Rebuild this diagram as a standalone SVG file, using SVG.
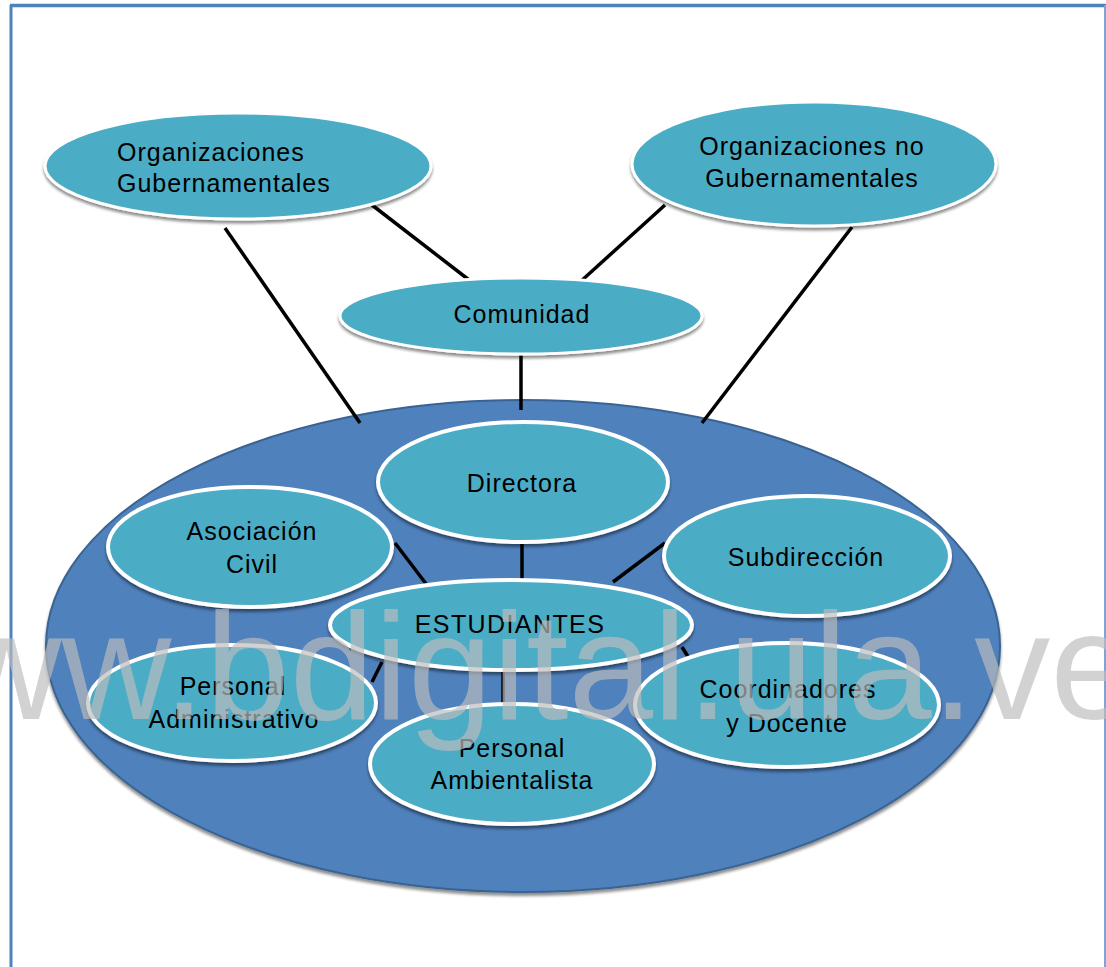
<svg xmlns="http://www.w3.org/2000/svg" width="1106" height="967" viewBox="0 0 1106 967">
<style>
.t{font-family:"Liberation Sans",Arial,sans-serif;font-size:25px;fill:#000;letter-spacing:1px}
.c{text-anchor:middle}
.top{fill:#4bacc6;stroke:#fff;stroke-width:3;filter:url(#sh)}
.in{fill:#4bacc6;stroke:#fff;stroke-width:4;filter:url(#sh)}
.ln{stroke:#000;stroke-width:3.5;fill:none}
.wm{font-family:"Liberation Sans",Arial,sans-serif;font-size:152px;fill:#bdbdbd;fill-opacity:0.68}
</style>
<defs>
<filter id="sh" x="-10%" y="-10%" width="120%" height="130%">
<feGaussianBlur in="SourceAlpha" stdDeviation="1.5"/>
<feOffset dx="0" dy="2.5" result="b"/>
<feComponentTransfer><feFuncA type="linear" slope="0.45"/></feComponentTransfer>
<feMerge><feMergeNode/><feMergeNode in="SourceGraphic"/></feMerge>
</filter>
</defs>
<rect width="1106" height="967" fill="#fff"/>
<g id="frame">
<line x1="11" y1="5" x2="11" y2="967" stroke="#4f81bd" stroke-width="3"/>
<line x1="10" y1="5.5" x2="1106" y2="5.5" stroke="#4f81bd" stroke-width="3.5"/>
<line x1="1105" y1="5" x2="1105" y2="967" stroke="#7fa3d6" stroke-width="2"/>
</g>
<g id="comunidad-escolar">
<ellipse cx="523" cy="646" rx="477" ry="246" fill="#4f81bd" stroke="#3a6392" stroke-width="2" filter="url(#sh)"/>
</g>
<g id="connectors">
<line class="ln" x1="372" y1="205" x2="473" y2="283"/>
<line class="ln" x1="225" y1="228" x2="360" y2="423"/>
<line class="ln" x1="665" y1="205" x2="580" y2="282"/>
<line class="ln" x1="852" y1="227" x2="702" y2="423"/>
<line class="ln" x1="521" y1="354" x2="521" y2="410"/>
<line class="ln" x1="522" y1="543" x2="522" y2="581"/>
<line class="ln" x1="395" y1="543" x2="430" y2="589"/>
<line class="ln" x1="665" y1="543" x2="613" y2="582"/>
<line class="ln" x1="382" y1="662" x2="372" y2="682"/>
<line class="ln" x1="503" y1="672" x2="503" y2="705"/>
<line class="ln" x1="682" y1="647" x2="692" y2="663"/>
</g>
<g id="org-gub">
<ellipse class="top" cx="238" cy="166" rx="193" ry="53"/>
<text class="t" x="117" y="161">Organizaciones</text>
<text class="t" x="117" y="192">Gubernamentales</text>
</g>
<g id="org-no-gub">
<ellipse class="top" cx="814" cy="164" rx="182" ry="62"/>
<text class="t c" x="812" y="155">Organizaciones no</text>
<text class="t c" x="812" y="187">Gubernamentales</text>
</g>
<g id="comunidad">
<ellipse class="top" cx="521" cy="316" rx="181" ry="38"/>
<text class="t c" x="522" y="323">Comunidad</text>
</g>
<g id="directora">
<ellipse class="in" cx="523" cy="482" rx="145" ry="60"/>
<text class="t c" x="522" y="492">Directora</text>
</g>
<g id="asociacion">
<ellipse class="in" cx="250" cy="547" rx="142" ry="60"/>
<text class="t c" x="252" y="540">Asociación</text>
<text class="t c" x="252" y="573">Civil</text>
</g>
<g id="subdireccion">
<ellipse class="in" cx="807" cy="556" rx="143" ry="60"/>
<text class="t c" x="806" y="566">Subdirección</text>
</g>
<g id="estudiantes">
<ellipse class="in" cx="511" cy="625" rx="181" ry="45"/>
<text class="t c" x="510" y="633" style="letter-spacing:1.4px">ESTUDIANTES</text>
</g>
<g id="personal-admin">
<ellipse class="in" cx="232" cy="703" rx="144" ry="58"/>
<text class="t c" x="233" y="695">Personal</text>
<text class="t c" x="234" y="728">Administrativo</text>
</g>
<g id="personal-amb">
<ellipse class="in" cx="512" cy="764" rx="142" ry="60"/>
<text class="t c" x="512" y="757">Personal</text>
<text class="t c" x="512" y="789">Ambientalista</text>
</g>
<g id="coordinadores">
<ellipse class="in" cx="787" cy="705" rx="152" ry="62"/>
<text class="t c" x="788" y="698">Coordinadores</text>
<text class="t c" x="787" y="732">y Docente</text>
</g>
<text class="wm" x="-158" y="719">www.bdigital.ula.ve</text>
</svg>
